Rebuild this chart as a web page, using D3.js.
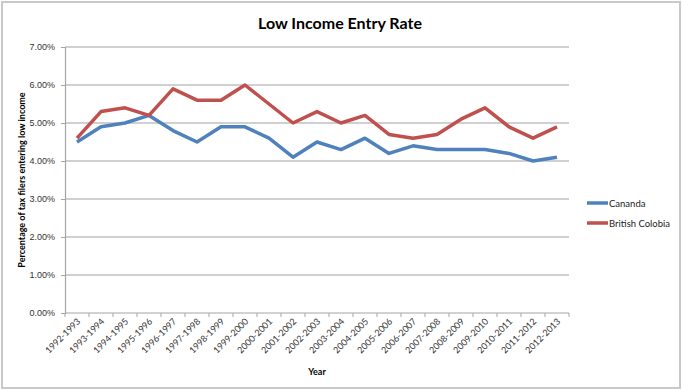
<!DOCTYPE html>
<html>
<head>
<meta charset="utf-8">
<script src="https://cdn.jsdelivr.net/npm/d3@7"></script>
<style>
  body { margin: 0; background: #fff; }
  svg { font-family: Lato, "Open Sans", sans-serif; }
</style>
</head>
<body>
<svg id="chart" width="682" height="390"></svg>
<script>
// data
var years = ["1992-1993","1993-1994","1994-1995","1995-1996","1996-1997","1997-1998",
  "1998-1999","1999-2000","2000-2001","2001-2002","2002-2003","2003-2004","2004-2005",
  "2005-2006","2006-2007","2007-2008","2008-2009","2009-2010","2010-2011","2011-2012","2012-2013"];
var canada = [4.5, 4.9, 5.0, 5.2, 4.8, 4.5, 4.9, 4.9, 4.6, 4.1, 4.5, 4.3, 4.6, 4.2, 4.4, 4.3, 4.3, 4.3, 4.2, 4.0, 4.1];
var bc     = [4.6, 5.3, 5.4, 5.2, 5.9, 5.6, 5.6, 6.0, 5.5, 5.0, 5.3, 5.0, 5.2, 4.7, 4.6, 4.7, 5.1, 5.4, 4.9, 4.6, 4.9];
var yTicks = [0, 1, 2, 3, 4, 5, 6, 7];
var seriesNames = ["Cananda", "British Colobia"];
var seriesColors = ["#4f81bd", "#c0504d"];

var svg = d3.select("#chart");

// outer frame
svg.append("rect")
  .attr("x", 2).attr("y", 2).attr("width", 678).attr("height", 386)
  .attr("fill", "none").attr("stroke", "#c9c9c9").attr("stroke-width", 2);

var pLeft = 65, pRight = 569, pTop = 47, pBottom = 313;

var x = d3.scaleBand().domain(years).range([pLeft, pRight]);
var y = d3.scaleLinear().domain([0, 7]).range([pBottom, pTop]);

// gridlines
svg.append("g").selectAll("line")
  .data(yTicks.slice(1))
  .enter().append("line")
  .attr("x1", pLeft).attr("x2", pRight)
  .attr("y1", function(d){ return y(d); })
  .attr("y2", function(d){ return y(d); })
  .attr("stroke", "#c0c0c0").attr("stroke-width", 1.5);

// y axis
var yAxis = svg.append("g")
  .attr("transform", "translate(" + pLeft + ",0)")
  .call(d3.axisLeft(y).tickValues(yTicks).tickSize(4).tickPadding(6)
    .tickFormat(function(d){ return d.toFixed(2) + "%"; }));
yAxis.select(".domain").attr("stroke", "#a6a6a6").attr("stroke-width", 1.2);
yAxis.selectAll(".tick line").attr("stroke", "#a6a6a6");
yAxis.selectAll("text").attr("font-size", 9).attr("fill", "#333").attr("font-family", null);

// x axis, ticks between categories
var xAxis = svg.append("g")
  .attr("transform", "translate(0," + pBottom + ")");
xAxis.append("line")
  .attr("x1", pLeft).attr("x2", pRight)
  .attr("stroke", "#a6a6a6").attr("stroke-width", 1.2);
xAxis.selectAll(".tk")
  .data(years.concat([null]))
  .enter().append("line")
  .attr("x1", function(d, i){ return pLeft + i * x.bandwidth(); })
  .attr("x2", function(d, i){ return pLeft + i * x.bandwidth(); })
  .attr("y1", 0).attr("y2", 4)
  .attr("stroke", "#a6a6a6");
xAxis.selectAll("text")
  .data(years)
  .enter().append("text")
  .attr("transform", function(d){
    return "translate(" + (x(d) + x.bandwidth() / 2 + 4) + ",9) rotate(-45)";
  })
  .attr("text-anchor", "end")
  .attr("font-size", 9)
  .attr("fill", "#333")
  .text(function(d){ return d; });

// lines
var line = d3.line()
  .x(function(d, i){ return x(years[i]) + x.bandwidth() / 2; })
  .y(function(d){ return y(d); });

[canada, bc].forEach(function(s, k){
  svg.append("path")
    .datum(s)
    .attr("d", line)
    .attr("fill", "none")
    .attr("stroke", seriesColors[k])
    .attr("stroke-width", 3.5)
    .attr("stroke-linejoin", "round");
});

// title
svg.append("text")
  .attr("x", 340).attr("y", 29)
  .attr("text-anchor", "middle")
  .attr("font-size", 16).attr("font-weight", "bold")
  .text("Low Income Entry Rate");

// axis titles
svg.append("text")
  .attr("x", (pLeft + pRight) / 2).attr("y", 375)
  .attr("text-anchor", "middle")
  .attr("font-size", 9).attr("font-weight", "bold")
  .text("Year");

svg.append("text")
  .attr("transform", "translate(25," + ((pTop + pBottom) / 2) + ") rotate(-90)")
  .attr("text-anchor", "middle")
  .attr("font-size", 9).attr("font-weight", "bold")
  .text("Percentage of tax filers entering low income");

// legend
var legend = svg.append("g").selectAll("g")
  .data(seriesNames)
  .enter().append("g")
  .attr("transform", function(d, i){ return "translate(587," + (203 + i * 20) + ")"; });
legend.append("line")
  .attr("x1", 0).attr("x2", 21)
  .attr("stroke", function(d, i){ return seriesColors[i]; })
  .attr("stroke-width", 3.5);
legend.append("text")
  .attr("x", 22).attr("y", 3.5)
  .attr("font-size", 9.5).attr("fill", "#222")
  .text(function(d){ return d; });
</script>
</body>
</html>
